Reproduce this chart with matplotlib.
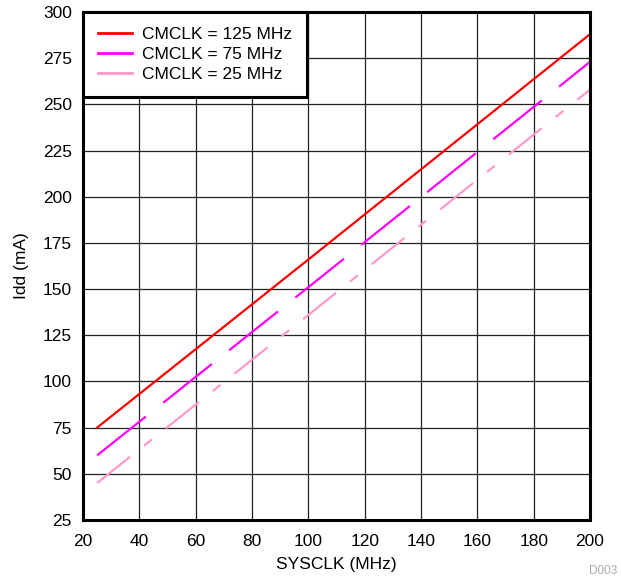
import matplotlib
matplotlib.use("Agg")
import matplotlib.pyplot as plt

plt.rcParams['font.family'] = ['Liberation Sans', 'DejaVu Sans']

sysclk = [25, 100, 200]
idd_125 = [75, 166, 288]
idd_75 = [60, 151, 273]
idd_25 = [45, 136, 258]
labels = ["CMCLK = 125 MHz", "CMCLK = 75 MHz", "CMCLK = 25 MHz"]
colors = ["#FF0000", "#FF00FF", "#FF99CC"]

fig = plt.figure(figsize=(6.21, 5.83), dpi=100)
ax = fig.add_axes([83/621, 1 - 520/583, (590-83)/621, (520-12)/583])

ax.plot(sysclk, idd_125, color=colors[0], lw=1.6, label=labels[0])
ax.plot(sysclk, idd_75, color=colors[1], lw=1.6, label=labels[1], dashes=(28, 10))
ax.plot(sysclk, idd_25, color=colors[2], lw=1.6, label=labels[2], dashes=(19, 8, 4.5, 8))

ax.set_xlim(20, 200); ax.set_ylim(25, 300)
ax.set_xticks(range(20, 201, 20)); ax.set_yticks(range(25, 301, 25))
ax.grid(True, color="#222222", lw=0.9)
ax.tick_params(length=0, labelsize=12.5)
ax.tick_params(axis="x", pad=10)
ax.tick_params(axis="y", pad=8)
for s in ax.spines.values():
    s.set_linewidth(2.2)
ax.set_xlabel("SYSCLK (MHz)", fontsize=12.5, labelpad=6)
ax.set_ylabel("Idd (mA)", fontsize=12.5, labelpad=10)

leg = ax.legend(loc="upper left", fontsize=12.5, fancybox=False, framealpha=1,
                edgecolor="black", borderaxespad=0, handlelength=2.0,
                handletextpad=0.55, labelspacing=0.28, borderpad=0.85)
leg.get_frame().set_linewidth(2.2)
for h in leg.get_lines():
    h.set_linestyle("-")
    h.set_linewidth(2.0)

fig.text(617/621, 1 - 571/583, "D003", color="#aaaaaa", fontsize=8.5, ha="right", va="center")
fig.savefig("out.png", dpi=100)
